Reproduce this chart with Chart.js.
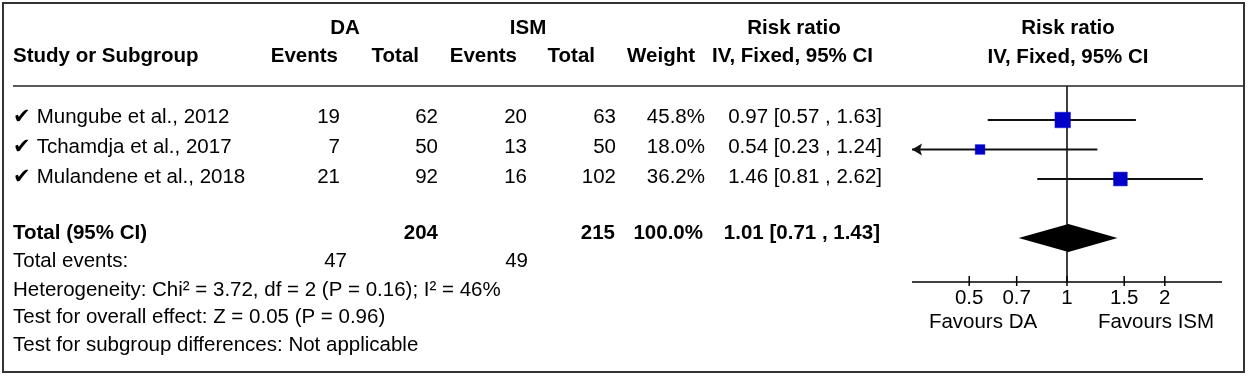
<!DOCTYPE html>
<html>
<head>
<meta charset="utf-8">
<script src="https://cdn.jsdelivr.net/npm/chart.js@4"></script>
<style>
  body { margin: 0; background: #fff; }
  #wrap { width: 1248px; height: 376px; }
</style>
</head>
<body>
<div id="wrap"><canvas id="forestChart" width="1248" height="376"></canvas></div>
<script>
// study data
const studies = ['Mungube et al., 2012', 'Tchamdja et al., 2017', 'Mulandene et al., 2018'];
const daEvents = [19, 7, 21];
const daTotal = [62, 50, 92];
const ismEvents = [20, 13, 16];
const ismTotal = [63, 50, 102];
const weights = [45.8, 18.0, 36.2];
const rr = [0.97, 0.54, 1.46];
const rrLow = [0.57, 0.23, 0.81];
const rrHigh = [1.63, 1.24, 2.62];

// pooled result
const totalRR = 1.01;
const totalLow = 0.71;
const totalHigh = 1.43;
const totalDA = 204;
const totalISM = 215;
const totalWeight = '100.0%';
const eventsDA = 47;
const eventsISM = 49;
const footLines = [
    'Heterogeneity: Chi\u00b2 = 3.72, df = 2 (P = 0.16); I\u00b2 = 46%',
    'Test for overall effect: Z = 0.05 (P = 0.96)',
    'Test for subgroup differences: Not applicable'
];

const xTicks = [0.5, 0.7, 1, 1.5, 2];
const xMin = 1 / 3;
const xMax = 3;
const totalRow = 4;

const FONT = '"Liberation Sans", Arial, sans-serif';
const FS = 20.5;
const fmt = v => v.toFixed(2);

// draws whiskers, reference line, diamond and the axis with the chart scales
const forestPlugin = {
    id: 'forest',
    beforeDatasetsDraw(chart) {
        const ctx = chart.ctx;
        const x = chart.scales.x, y = chart.scales.y;
        const area = chart.chartArea;
        ctx.save();
        // line of no effect
        ctx.strokeStyle = '#000';
        ctx.lineWidth = 1.5;
        ctx.beginPath();
        ctx.moveTo(x.getPixelForValue(1), area.top);
        ctx.lineTo(x.getPixelForValue(1), area.bottom);
        ctx.stroke();
        // confidence intervals
        ctx.lineWidth = 2;
        ctx.strokeStyle = '#111';
        ctx.fillStyle = '#111';
        studies.forEach((s, i) => {
            const py = y.getPixelForValue(i);
            const clipL = rrLow[i] < x.min;
            const clipR = rrHigh[i] > x.max;
            const x0 = clipL ? x.left : x.getPixelForValue(rrLow[i]);
            const x1 = clipR ? x.right : x.getPixelForValue(rrHigh[i]);
            ctx.beginPath();
            ctx.moveTo(x0, py);
            ctx.lineTo(x1, py);
            ctx.stroke();
            if (clipL) {
                ctx.beginPath();
                ctx.moveTo(x0, py);
                ctx.lineTo(x0 + 10, py - 6);
                ctx.lineTo(x0 + 8, py);
                ctx.lineTo(x0 + 10, py + 6);
                ctx.closePath();
                ctx.fill();
            }
            if (clipR) {
                ctx.beginPath();
                ctx.moveTo(x1, py);
                ctx.lineTo(x1 - 10, py - 6);
                ctx.lineTo(x1 - 8, py);
                ctx.lineTo(x1 - 10, py + 6);
                ctx.closePath();
                ctx.fill();
            }
        });
        // pooled diamond
        const dy = y.getPixelForValue(totalRow);
        ctx.fillStyle = '#000';
        ctx.beginPath();
        ctx.moveTo(x.getPixelForValue(totalLow), dy);
        ctx.lineTo(x.getPixelForValue(totalRR), dy - 14);
        ctx.lineTo(x.getPixelForValue(totalHigh), dy);
        ctx.lineTo(x.getPixelForValue(totalRR), dy + 14);
        ctx.closePath();
        ctx.fill();
        // axis
        ctx.strokeStyle = '#000';
        ctx.lineWidth = 1.5;
        ctx.beginPath();
        ctx.moveTo(x.left, area.bottom);
        ctx.lineTo(x.right, area.bottom);
        ctx.stroke();
        ctx.fillStyle = '#000';
        ctx.font = FS + 'px ' + FONT;
        ctx.textAlign = 'center';
        ctx.textBaseline = 'alphabetic';
        xTicks.forEach(t => {
            const px = x.getPixelForValue(t);
            ctx.beginPath();
            ctx.moveTo(px, area.bottom - 6);
            ctx.lineTo(px, area.bottom + 4);
            ctx.stroke();
            ctx.fillText(String(t), px, area.bottom + 22);
        });
        ctx.fillText('Favours DA', 983, 328);
        ctx.fillText('Favours ISM', 1156, 328);
        ctx.restore();
    }
};

// table text, header rule and frame
const tablePlugin = {
    id: 'table',
    afterDraw(chart) {
        const ctx = chart.ctx;
        ctx.save();
        ctx.fillStyle = '#000';
        ctx.textBaseline = 'alphabetic';
        const bold = 'bold ' + FS + 'px ' + FONT;
        const norm = FS + 'px ' + FONT;
        const txt = (s, px, py, align, f) => {
            ctx.font = f;
            ctx.textAlign = align;
            ctx.fillText(s, px, py);
        };
        // headers
        txt('DA', 345, 34, 'center', bold);
        txt('ISM', 528, 34, 'center', bold);
        txt('Risk ratio', 794, 34, 'center', bold);
        txt('Risk ratio', 1068, 34, 'center', bold);
        txt('Study or Subgroup', 13, 62, 'left', bold);
        txt('Events', 338, 62, 'right', bold);
        txt('Total', 419, 62, 'right', bold);
        txt('Events', 517, 62, 'right', bold);
        txt('Total', 595, 62, 'right', bold);
        txt('Weight', 695, 62, 'right', bold);
        txt('IV, Fixed, 95% CI', 873, 62, 'right', bold);
        txt('IV, Fixed, 95% CI', 1068, 63, 'center', bold);
        // study rows
        studies.forEach((s, i) => {
            const by = 123 + i * 30;
            txt('\u2714 ' + s, 13, by, 'left', norm);
            txt(String(daEvents[i]), 340, by, 'right', norm);
            txt(String(daTotal[i]), 438, by, 'right', norm);
            txt(String(ismEvents[i]), 527, by, 'right', norm);
            txt(String(ismTotal[i]), 616, by, 'right', norm);
            txt(weights[i].toFixed(1) + '%', 705, by, 'right', norm);
            txt(fmt(rr[i]) + ' [' + fmt(rrLow[i]) + ' , ' + fmt(rrHigh[i]) + ']', 882, by, 'right', norm);
        });
        // total rows
        txt('Total (95% CI)', 13, 239, 'left', bold);
        txt(String(totalDA), 438, 239, 'right', bold);
        txt(String(totalISM), 615, 239, 'right', bold);
        txt(totalWeight, 703, 239, 'right', bold);
        txt(fmt(totalRR) + ' [' + fmt(totalLow) + ' , ' + fmt(totalHigh) + ']', 880, 239, 'right', bold);
        txt('Total events:', 13, 267, 'left', norm);
        txt(String(eventsDA), 347, 267, 'right', norm);
        txt(String(eventsISM), 528, 267, 'right', norm);
        footLines.forEach((s, i) => txt(s, 13, 296 + i * 27.3, 'left', norm));
        // header rule
        ctx.strokeStyle = '#222';
        ctx.lineWidth = 1.5;
        ctx.beginPath();
        ctx.moveTo(13, 86);
        ctx.lineTo(1244, 86);
        ctx.stroke();
        // frame
        ctx.strokeStyle = '#333';
        ctx.lineWidth = 2;
        ctx.strokeRect(3, 3, 1241, 369);
        ctx.restore();
    }
};

const ctx = document.getElementById('forestChart').getContext('2d');
const forestChart = new Chart(ctx, {
    type: 'scatter',
    data: {
        datasets: [{
            data: studies.map((s, i) => ({ x: rr[i], y: i })),
            pointStyle: 'rect',
            pointRadius: weights.map(w => 1.62 * Math.sqrt(w)),
            pointHoverRadius: weights.map(w => 1.62 * Math.sqrt(w)),
            backgroundColor: '#0000c8',
            borderColor: '#1010d0',
            borderWidth: 0.5
        }]
    },
    options: {
        responsive: false,
        animation: false,
        devicePixelRatio: 1,
        layout: { padding: { left: 912, right: 26, top: 86, bottom: 94 } },
        scales: {
            x: {
                type: 'logarithmic',
                bounds: 'data',
                min: xMin,
                max: xMax,
                display: false,
                afterBuildTicks(scale) {
                    scale.ticks = xTicks.map(v => ({ value: v }));
                    scale.min = xMin;
                    scale.max = xMax;
                }
            },
            y: { type: 'linear', min: -1.1525, max: 5.4915, reverse: true, display: false }
        },
        plugins: {
            legend: { display: false },
            tooltip: { enabled: false }
        }
    },
    plugins: [forestPlugin, tablePlugin]
});
</script>
</body>
</html>
